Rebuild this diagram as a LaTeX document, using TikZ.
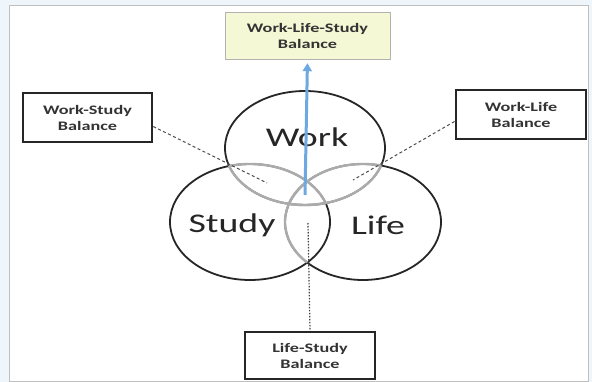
\documentclass[tikz,border=0pt]{standalone}
\usepackage{fontspec}
\setmainfont{Carlito}
\usetikzlibrary{arrows.meta}
\definecolor{paleyellow}{RGB}{244,248,212}
\definecolor{arrowblue}{RGB}{110,168,224}
\definecolor{paleblue}{RGB}{238,246,251}

\begin{document}
\begin{tikzpicture}[x=1pt,y=-1pt,
  ring/.style={draw=black!85,line width=1.8pt},
  faint/.style={draw=black!33,line width=2.4pt},
  tag/.style={font=\bfseries\fontsize{13}{16}\selectfont,text=black!80,align=center,
    xscale=1.4,minimum height=49,inner sep=0pt},
  rim/.style={draw=black!85,line width=2pt,fill=white},
  lbl/.style={font=\fontsize{27}{30}\selectfont,text=black!85,xscale=1.4,inner sep=0pt},
  link/.style={black!70,line width=1pt,dash pattern=on 3pt off 2.5pt}]
\useasboundingbox (0,0) rectangle (592,382);
\fill[paleblue] (0,0) rectangle (592,382);
\draw[gray!50,fill=white] (9,5) rectangle (588,381);
% the three sets
\draw[ring] (305,148) ellipse [x radius=80,y radius=57];
\draw[ring] (250,222) ellipse [x radius=80,y radius=58];
\draw[ring] (363,222) ellipse [x radius=78,y radius=58];
% overlaps in grey
\begin{scope}
  \clip (305,148) ellipse [x radius=80,y radius=57];
  \draw[faint] (250,222) ellipse [x radius=80,y radius=58];
  \draw[faint] (363,222) ellipse [x radius=78,y radius=58];
\end{scope}
\begin{scope}
  \clip (250,222) ellipse [x radius=80,y radius=58];
  \draw[faint] (305,148) ellipse [x radius=80,y radius=57];
  \draw[faint] (363,222) ellipse [x radius=78,y radius=58];
\end{scope}
\begin{scope}
  \clip (363,222) ellipse [x radius=78,y radius=58];
  \draw[faint] (305,148) ellipse [x radius=80,y radius=57];
\end{scope}
\node[lbl] (work) at (307,137) {Work};
\node[lbl] (study) at (232,225) {Study};
\node[lbl] (life) at (378,225) {Life};
% the balance boxes
\node[tag,draw=black!30,fill=paleyellow,minimum width=118,minimum height=47] (wls) at (307.5,35.5) {Work-Life-Study\\Balance};
\node[tag,rim,minimum width=92] (ws) at (87.5,117.5) {Work-Study\\Balance};
\node[tag,rim,minimum width=93] (wl) at (521,114.5) {Work-Life\\Balance};
\node[tag,rim,minimum width=93,minimum height=47] (ls) at (310,355.5) {Life-Study\\Balance};
\coordinate (wsend) at (267,183);
\coordinate (wlend) at (353,180);
\coordinate (lsend) at (308,223);
\coordinate (foot) at (305,195);
\draw[link] ([yshift=-9pt]ws.east) -- (wsend);
\draw[link] ([yshift=-7pt]wl.west) -- (wlend);
\draw[black!75,line width=1.2pt,dash pattern=on 1.5pt off 1.5pt] (lsend) -- (ls.north);
\draw[arrowblue,line width=3pt,-{Triangle[length=8pt,width=9pt]},shorten >=4pt] (foot) -- (wls.south);
\end{tikzpicture}
\end{document}
